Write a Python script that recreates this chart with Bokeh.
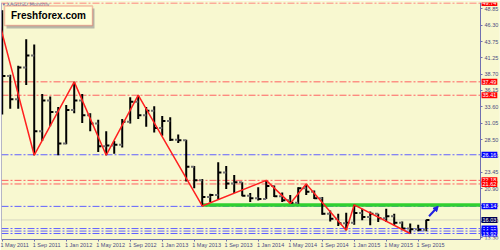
from bokeh.plotting import figure
from bokeh.models import (LinearAxis, FixedTicker, Range1d, Label, BoxAnnotation,
                          Arrow, NormalHead, Span, PrintfTickFormatter, ColumnDataSource)
from bokeh.transform import dodge
from bokeh.embed import file_html
from bokeh.resources import INLINE

# ---------------- data ----------------
# monthly XAGUSD bars, index 0 = May 2011
month_index = list(range(54))
opens  = [48.3, 38.4, 34.8, 39.7, 41.6, 29.8, 34.6, 32.8, 27.9, 33.1,
          34.6, 32.3, 31.0, 27.5, 27.6, 27.7, 31.3, 34.4, 32.3, 33.0,
          30.3, 31.4, 28.5, 28.4, 24.3, 22.2, 19.6, 19.9, 23.4, 21.7,
          21.9, 19.8, 19.4, 19.3, 21.3, 19.7, 19.1, 18.7, 20.95, 20.4,
          19.4, 17.0, 16.2, 15.5, 15.6, 17.1, 16.5, 17.0, 16.3, 16.6,
          15.6, 14.7, 14.6, 14.5]
highs  = [48.6, 38.6, 40.0, 44.1, 43.3, 35.6, 35.2, 33.6, 33.9, 37.49,
          35.6, 32.6, 31.6, 29.8, 28.3, 31.7, 35.1, 35.41, 33.6, 33.7,
          32.2, 32.0, 29.3, 28.5, 24.4, 22.4, 20.1, 25.0, 24.4, 23.0,
          21.9, 20.2, 21.1, 22.18, 21.4, 20.3, 19.9, 21.1, 21.62, 20.6,
          19.6, 17.5, 17.0, 17.15, 18.38, 17.77, 17.36, 17.0, 17.77, 17.0,
          15.8, 15.46, 15.3, 16.07]
lows   = [32.4, 33.3, 33.3, 37.0, 26.1, 28.3, 30.6, 26.1, 27.8, 32.6,
          31.1, 29.8, 26.6, 26.1, 26.3, 27.3, 31.0, 31.7, 30.5, 29.6,
          29.1, 28.3, 28.0, 22.0, 20.96, 18.2, 18.8, 19.2, 20.85, 20.2,
          19.7, 18.8, 19.05, 19.3, 19.6, 18.8, 18.6, 18.55, 19.9, 19.3,
          16.85, 15.8, 15.1, 14.42, 15.3, 15.97, 15.2, 15.72, 15.72, 15.2,
          14.42, 13.92, 14.27, 14.27]
closes = [38.4, 34.8, 39.7, 41.6, 29.8, 34.6, 32.8, 27.9, 33.1, 34.6,
          32.3, 31.0, 27.5, 27.6, 27.7, 31.3, 34.4, 32.3, 33.0, 30.3,
          31.4, 28.5, 28.4, 24.3, 22.2, 19.6, 19.9, 23.4, 21.7, 21.9,
          19.8, 19.4, 19.3, 21.3, 19.7, 19.1, 18.7, 20.95, 20.4, 19.4,
          17.0, 16.2, 15.5, 15.6, 17.1, 16.5, 17.0, 16.3, 16.6, 15.6,
          14.7, 14.6, 14.5, 16.03]

zigzag_months = [-1, 4, 9, 13, 17, 25, 33, 36, 38, 43, 44, 51]
zigzag_values = [49.74, 26.09, 37.49, 26.09, 35.41, 18.2, 22.18, 18.6, 21.62, 14.42, 18.38, 13.92]

red_levels = [49.74, 37.49, 35.41, 22.18, 21.62]
blue_levels = [26.16, 18.14, 14.69, 14.30, 13.92]
current_price = 16.03
green_level = 18.35
green_start_month = 25
arrow_from = (53.35, 16.6)
arrow_to = (54.5, 18.15)

xtick_months = [0, 4, 8, 12, 16, 20, 24, 28, 32, 36, 40, 44, 48, 52]
xtick_labels = ["1 May 2011", "1 Sep 2011", "1 Jan 2012", "1 May 2012", "1 Sep 2012",
                "1 Jan 2013", "1 May 2013", "1 Sep 2013", "1 Jan 2014", "1 May 2014",
                "1 Sep 2014", "1 Jan 2015", "1 May 2015", "1 Sep 2015"]
ytick_values = [48.85, 46.30, 43.75, 41.25, 38.70, 36.15, 33.60, 31.05, 28.50,
                25.95, 23.45, 20.90, 18.35, 15.80, 13.30]

# ---------------- styling ----------------
BG = "#f8f8d0"
AXIS = "#7070b0"
TXT = "#4a4a80"
RED = "#ff6060"
BLUE = "#6060ff"
FONT = "Liberation Sans"
DASH = "7 2 2 2"

# price axis sits at month 59.79; the frame continues to the window edge
x_start, x_axis_pos, x_end = -0.09, 59.79, 62.16
y_start, y_end = 12.99, 49.82

p = figure(width=500, height=250, output_backend="svg", toolbar_location=None,
           x_range=Range1d(x_start, x_end), y_range=Range1d(y_start, y_end),
           x_axis_location=None, y_axis_location=None,
           min_border_left=1, min_border_right=1, min_border_top=2, min_border_bottom=9)
p.background_fill_color = BG
p.border_fill_color = BG
p.outline_line_color = None
p.grid.visible = False

# right price axis (fixed at the right edge of the chart area)
yax = LinearAxis(ticker=FixedTicker(ticks=ytick_values), fixed_location=x_axis_pos,
                 formatter=PrintfTickFormatter(format="%.2f"),
                 major_tick_out=2, major_tick_in=0, major_label_standoff=2,
                 major_label_text_font_size="5.5px", major_label_text_font=FONT,
                 major_label_text_color=TXT, axis_line_color=AXIS,
                 major_tick_line_color=AXIS, minor_tick_line_color=None)
p.add_layout(yax, "right")

# bottom time axis: tick marks only
xax = LinearAxis(ticker=FixedTicker(ticks=xtick_months), bounds=(x_start, x_axis_pos),
                 major_tick_out=2, major_tick_in=0, major_label_standoff=0,
                 major_label_text_font_size="1px", major_label_text_color=None,
                 axis_line_color=AXIS, major_tick_line_color=AXIS, minor_tick_line_color=None)
p.add_layout(xax, "below")
# bottom time axis: labels, left-aligned to their tick marks
label_shift = 1.55
shifted = [m + label_shift for m in xtick_months]
xlab = LinearAxis(ticker=FixedTicker(ticks=shifted),
                  major_label_overrides={s: t for s, t in zip(shifted, xtick_labels)},
                  major_tick_out=0, major_tick_in=0, major_label_standoff=0,
                  major_label_text_font_size="5.5px", major_label_text_font=FONT,
                  major_label_text_color=TXT, axis_line_color=None,
                  major_tick_line_color=None, minor_tick_line_color=None)
p.add_layout(xlab, "below")

# left border of the chart area
p.add_layout(Span(location=x_start, dimension="height", line_color=AXIS, line_width=1))

# horizontal levels (up to the price axis)
p.segment(x0=x_start, y0=current_price, x1=x_axis_pos, y1=current_price,
          line_color="#d6d6c0", line_width=1)
p.segment(x0=[x_start] * len(red_levels), y0=red_levels,
          x1=[x_axis_pos] * len(red_levels), y1=red_levels,
          line_color=RED, line_width=1, line_dash=DASH)
p.segment(x0=[x_start] * len(blue_levels), y0=blue_levels,
          x1=[x_axis_pos] * len(blue_levels), y1=blue_levels,
          line_color=BLUE, line_width=1, line_dash=DASH)

# green support band
p.line([green_start_month, x_axis_pos], [green_level, green_level], line_color="#30d030", line_width=3.5)

# OHLC bars
src = ColumnDataSource(dict(x=month_index, o=opens, h=highs, l=lows, c=closes))
p.segment(x0="x", y0="l", x1="x", y1="h", source=src, line_color="black", line_width=2)
p.segment(x0=dodge("x", -0.4), y0="o", x1="x", y1="o", source=src, line_color="#707070", line_width=2)
p.segment(x0="x", y0="c", x1=dodge("x", 0.4), y1="c", source=src, line_color="black", line_width=2)

# zigzag
p.line(zigzag_months, zigzag_values, line_color="#ff2020", line_width=1.5)

# arrow
p.add_layout(Arrow(end=NormalHead(size=5, fill_color="#2020e0", line_color="#2020e0"),
                   x_start=arrow_from[0], y_start=arrow_from[1],
                   x_end=arrow_to[0], y_end=arrow_to[1],
                   line_color="#2020e0", line_width=2))

# price boxes on the axis
def price_box(v, color):
    p.add_layout(Label(x=x_axis_pos, y=v, x_offset=1, text=f"{v:.2f}",
                       text_font_size="5.5px", text_font=FONT, text_color="white",
                       text_baseline="middle", text_align="left", padding=1,
                       background_fill_color=color, background_fill_alpha=1.0))

for v in red_levels:
    price_box(v, "#ff0000")
for v in blue_levels:
    price_box(v, "#0000ff")
price_box(current_price, "#000050")

# title and watermark
p.add_layout(Label(x=1, y=236, x_units="screen", y_units="screen", text="▾ XAGUSD,Monthly",
                   text_font_size="5px", text_font="DejaVu Sans", text_color="#6a6aa6",
                   text_baseline="middle"))
p.add_layout(BoxAnnotation(left=5, right=93, top=231, bottom=211, left_units="screen",
                           right_units="screen", top_units="screen", bottom_units="screen",
                           fill_color="#909090", fill_alpha=0.6, line_color=None))
p.add_layout(BoxAnnotation(left=3, right=91, top=233.5, bottom=214, left_units="screen",
                           right_units="screen", top_units="screen", bottom_units="screen",
                           fill_color="#ffffd8", fill_alpha=1, line_color="#e03030", line_width=1.5))
p.add_layout(Label(x=47, y=224, x_units="screen", y_units="screen", text="Freshforex.com",
                   text_font_size="10px", text_font=FONT, text_font_style="bold",
                   text_color="black", text_align="center", text_baseline="middle"))

open("out.html", "w").write(file_html(p, INLINE))
